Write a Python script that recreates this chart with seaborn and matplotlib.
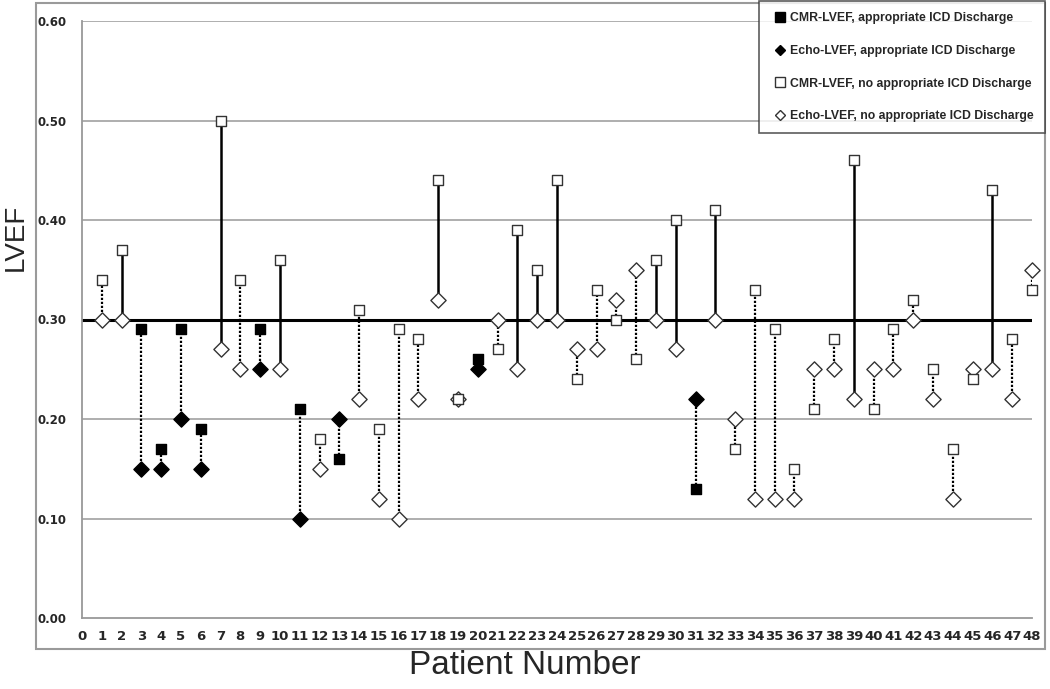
import matplotlib
matplotlib.use("Agg")
import numpy as np
import pandas as pd
import matplotlib.pyplot as plt
import seaborn as sns
from matplotlib.patches import Rectangle
from matplotlib.lines import Line2D

# ---------------- data ----------------
patients = list(range(1, 49))
cmr_lvef = [0.34, 0.37, 0.29, 0.17, 0.29, 0.19, 0.50, 0.34, 0.29, 0.36,
            0.21, 0.18, 0.16, 0.31, 0.19, 0.29, 0.28, 0.44, 0.22, 0.26,
            0.27, 0.39, 0.35, 0.44, 0.24, 0.33, 0.30, 0.26, 0.36, 0.40,
            0.13, 0.41, 0.17, 0.33, 0.29, 0.15, 0.21, 0.28, 0.46, 0.21,
            0.29, 0.32, 0.25, 0.17, 0.24, 0.43, 0.28, 0.33]
echo_lvef = [0.30, 0.30, 0.15, 0.15, 0.20, 0.15, 0.27, 0.25, 0.25, 0.25,
             0.10, 0.15, 0.20, 0.22, 0.12, 0.10, 0.22, 0.32, 0.22, 0.25,
             0.30, 0.25, 0.30, 0.30, 0.27, 0.27, 0.32, 0.35, 0.30, 0.27,
             0.22, 0.30, 0.20, 0.12, 0.12, 0.12, 0.25, 0.25, 0.22, 0.25,
             0.25, 0.30, 0.22, 0.12, 0.25, 0.25, 0.22, 0.35]
icd_discharge_patients = [3, 4, 5, 6, 9, 11, 13, 20, 31]
cutoff = 0.30
reclass_threshold = 0.35
y_ticks = [0.00, 0.10, 0.20, 0.30, 0.40, 0.50, 0.60]
x_ticks = list(range(0, 49))
legend_labels = ["CMR-LVEF, appropriate ICD Discharge",
                 "Echo-LVEF, appropriate ICD Discharge",
                 "CMR-LVEF, no appropriate ICD Discharge",
                 "Echo-LVEF, no appropriate ICD Discharge"]

df = pd.DataFrame({"patient": patients, "cmr": cmr_lvef, "echo": echo_lvef})
df["icd"] = df["patient"].isin(icd_discharge_patients)

# ---------------- figure ----------------
sns.set_style("white")
plt.rcParams["font.family"] = ["DejaVu Sans"]

W, H = 1050, 689
fig = plt.figure(figsize=(W / 100, H / 100), dpi=100)
ax = fig.add_axes([82 / W, 1 - 618 / H, (1032 - 82) / W, (618 - 21) / H])

# inner frame (chart area border)
fig.patches.append(Rectangle((36 / W, 1 - 649 / H), (1045 - 36) / W, (649 - 3) / H,
                             transform=fig.transFigure, fill=False,
                             edgecolor="#9a9a9a", linewidth=1.5, zorder=0))

# gridlines
for yt in y_ticks[1:]:
    if abs(yt - cutoff) < 1e-9:
        continue
    ax.axhline(yt, color="#a8a8a8", linewidth=1.3, zorder=1)
ax.axhline(cutoff, color="black", linewidth=2.2, zorder=2)

# connecting lines
for _, r in df.iterrows():
    lo, hi = min(r.cmr, r.echo), max(r.cmr, r.echo)
    if hi - lo < 1e-9:
        continue
    if r.cmr >= reclass_threshold:
        ax.vlines(r.patient, lo, hi, colors="black", linewidth=1.8, zorder=3)
    else:
        ax.vlines(r.patient, lo, hi, colors="black", linewidth=1.6,
                  linestyles=(0, (1, 0.8)), zorder=3)

# markers
open_edge = "#333333"
no_icd = df[~df.icd]
yes_icd = df[df.icd]
sns.scatterplot(data=no_icd, x="patient", y="echo", marker="D", s=60,
                facecolor="white", edgecolor=open_edge, linewidth=1.0,
                ax=ax, zorder=4, clip_on=False)
sns.scatterplot(data=no_icd, x="patient", y="cmr", marker="s", s=55,
                facecolor="white", edgecolor=open_edge, linewidth=1.0,
                ax=ax, zorder=5, clip_on=False)
sns.scatterplot(data=yes_icd, x="patient", y="echo", marker="D", s=60,
                color="black", edgecolor="black", linewidth=1.0,
                ax=ax, zorder=4, clip_on=False)
sns.scatterplot(data=yes_icd, x="patient", y="cmr", marker="s", s=55,
                color="black", edgecolor="black", linewidth=1.0,
                ax=ax, zorder=5, clip_on=False)

# axes
ax.set_xlim(0, 48)
ax.set_ylim(0, 0.6)
ax.set_xticks(x_ticks)
ax.set_xticklabels([str(t) for t in x_ticks], fontsize=9.5, fontweight="bold")
ax.set_yticks(y_ticks)
ax.set_yticklabels([f"{t:.2f}" for t in y_ticks], fontsize=8.5, fontweight="bold")
ax.tick_params(axis="x", direction="out", length=5, width=1, color="#999999", pad=4)
ax.tick_params(axis="y", direction="out", length=5, width=1, color="#999999", pad=6)
for s in ["top", "right"]:
    ax.spines[s].set_visible(False)
for s in ["left", "bottom"]:
    ax.spines[s].set_color("#999999")
    ax.spines[s].set_linewidth(1.3)
ax.set_xlabel("")
ax.set_ylabel("")
ax.patch.set_alpha(0)

fig.text(16 / W, 1 - 237 / H, "LVEF", rotation=90, ha="center", va="center",
         fontsize=20, family="Liberation Sans")
fig.text(525 / W, 1 - 665 / H, "Patient Number", ha="center", va="center",
         fontsize=24, family="Liberation Sans")

handles = [
    Line2D([], [], linestyle="none", marker="s", markersize=7,
           markerfacecolor="black", markeredgecolor="black"),
    Line2D([], [], linestyle="none", marker="D", markersize=5.5,
           markerfacecolor="black", markeredgecolor="black"),
    Line2D([], [], linestyle="none", marker="s", markersize=7,
           markerfacecolor="white", markeredgecolor=open_edge),
    Line2D([], [], linestyle="none", marker="D", markersize=5.5,
           markerfacecolor="white", markeredgecolor=open_edge),
]
leg = fig.legend(handles, legend_labels, loc="upper right",
                 bbox_to_anchor=(1045 / W, 1 - 1 / H),
                 prop={"family": "Liberation Sans", "weight": "bold", "size": 8.8},
                 frameon=True, fancybox=False, labelspacing=1.7,
                 handletextpad=0.05, handlelength=1.6, borderpad=0.9,
                 borderaxespad=0.0)
leg.get_frame().set_edgecolor("#333333")
leg.get_frame().set_linewidth(1.2)

fig.savefig("out.png", dpi=100)
